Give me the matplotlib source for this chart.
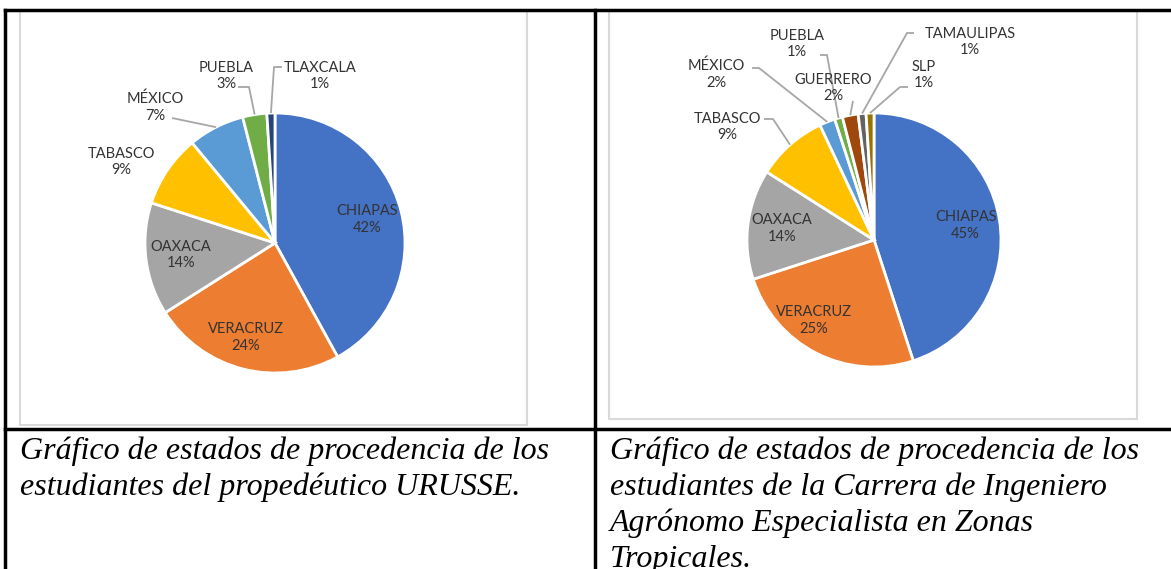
"""Estados de procedencia - dos graficos de pastel"""

import numpy as np
import matplotlib.pyplot as plt
from matplotlib.patches import Rectangle

# --- datos ---
estados_1 = ['CHIAPAS', 'VERACRUZ', 'OAXACA', 'TABASCO', 'MÉXICO', 'PUEBLA', 'TLAXCALA']
valores_1 = [42, 24, 14, 9, 7, 3, 1]
colores_1 = ['#4472C4', '#ED7D31', '#A5A5A5', '#FFC000', '#5B9BD5', '#70AD47', '#264478']

estados_2 = ['CHIAPAS', 'VERACRUZ', 'OAXACA', 'TABASCO', 'MÉXICO', 'PUEBLA',
             'GUERRERO', 'TAMAULIPAS', 'SLP']
valores_2 = [45, 25, 14, 9, 2, 1, 2, 1, 1]
colores_2 = ['#4472C4', '#ED7D31', '#A5A5A5', '#FFC000', '#5B9BD5', '#70AD47',
             '#9E480E', '#636363', '#997300']

caption_1 = 'Gráfico de estados de procedencia de los\nestudiantes del propedéutico URUSSE.'
caption_2 = ('Gráfico de estados de procedencia de los\nestudiantes de la Carrera de Ingeniero\n'
             'Agrónomo Especialista en Zonas\nTropicales.')

W, H = 1171, 569
LABEL_FONT = ['Lato', 'DejaVu Sans']
LABEL_SIZE = 10.5


def Y(y):
    """image row -> data y"""
    return H - y


def draw_pie(ax, valores, colores, estados, cx, cy, r, inside, outside):
    wedges, _ = ax.pie(valores, colors=colores, startangle=90, counterclock=False,
                       center=(cx, Y(cy)), radius=r,
                       wedgeprops=dict(edgecolor='white', linewidth=2))
    total = sum(valores)
    lab = dict(ha='center', va='center', fontsize=LABEL_SIZE, family=LABEL_FONT,
               linespacing=1.25, color='#333333')
    for i, w in enumerate(wedges):
        theta = np.deg2rad((w.theta1 + w.theta2) / 2)
        txt = f'{estados[i]}\n{round(100 * valores[i] / total)}%'
        if i in inside:
            f, dth = inside[i]
            t = theta + np.deg2rad(dth)
            ax.text(cx + f * r * np.cos(t), Y(cy) + f * r * np.sin(t), txt, **lab)
        else:
            tx, ty, pts = outside[i]
            ax.text(tx, Y(ty), txt, **lab)
            if pts:
                ex = cx + r * np.cos(theta)
                ey = Y(cy) + r * np.sin(theta)
                xs = [p[0] for p in pts] + [ex]
                ys = [Y(p[1]) for p in pts] + [ey]
                ax.plot(xs, ys, color='#A6A6A6', lw=1.3, solid_capstyle='butt')


def main():
    fig = plt.figure(figsize=(W / 100, H / 100), dpi=100)
    ax = fig.add_axes([0, 0, 1, 1])

    # cajas de los graficos
    ax.add_patch(Rectangle((20, Y(425)), 507, 414, fill=False, ec='#D9D9D9', lw=1.5))
    ax.add_patch(Rectangle((609, Y(419)), 528, 408, fill=False, ec='#D9D9D9', lw=1.5))

    draw_pie(ax, valores_1, colores_1, estados_1, 275, 243, 130,
             inside={0: (0.73, 0), 1: (0.76, -3), 2: (0.73, 0)},
             outside={3: (121, 162, []),
                      4: (155, 107, [(172, 118)]),
                      5: (226, 76, [(238, 87), (249, 87)]),
                      6: (320, 76, [(282, 67), (274, 67)])})

    draw_pie(ax, valores_2, colores_2, estados_2, 874, 240, 127,
             inside={0: (0.73, 0), 1: (0.79, -10), 2: (0.73, 0)},
             outside={3: (727, 127, [(764, 119), (773, 119)]),
                      4: (716, 74, [(752, 68), (759, 68)]),
                      5: (797, 44, [(820, 55), (827, 55)]),
                      6: (833, 88, [(853, 101)]),
                      7: (970, 42, [(914, 33), (907, 33)]),
                      8: (924, 75, [(908, 87), (900, 87)])})

    # lineas de la tabla
    lw = 2.5
    ax.plot([5, W], [Y(10), Y(10)], color='black', lw=lw)
    ax.plot([5, W], [Y(429), Y(429)], color='black', lw=lw)
    ax.plot([5, 5], [Y(10), 0], color='black', lw=lw)
    ax.plot([595, 595], [Y(10), 0], color='black', lw=lw)

    # textos al pie
    cap = dict(family='Liberation Serif', style='italic', fontsize=23,
               ha='left', va='top', linespacing=1.3, color='black')
    ax.text(20, Y(436), caption_1, **cap)
    ax.text(610, Y(436), caption_2, **cap)

    ax.set_xlim(0, W)
    ax.set_ylim(0, H)
    ax.set_aspect('equal')
    ax.axis('off')
    fig.savefig('out.png', dpi=100)


if __name__ == "__main__":
    main()
